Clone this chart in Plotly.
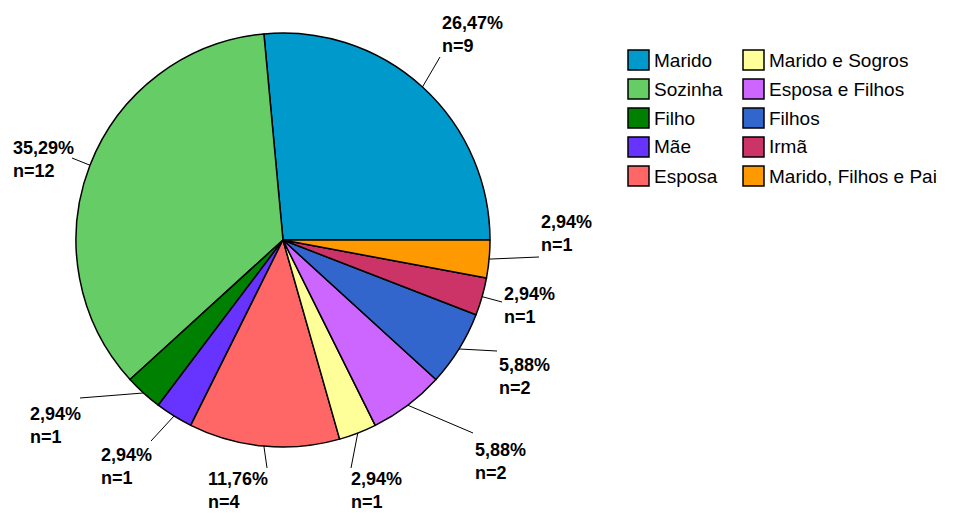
import math
import plotly.graph_objects as go

labels = ["Marido", "Sozinha", "Filho", "Mãe", "Esposa",
          "Marido e Sogros", "Esposa e Filhos", "Filhos", "Irmã", "Marido, Filhos e Pai"]
counts = [9, 12, 1, 1, 4, 1, 2, 2, 1, 1]
colors = ["#0099CC", "#66CC66", "#008000", "#6633FF", "#FF6666",
          "#FFFF99", "#CC66FF", "#3366CC", "#CC3366", "#FF9900"]

W, H = 962, 513
CX, CY, R = 283, 240, 207
TOP_END = 90  # clockwise-most edge of first slice at 3 o'clock; others follow counterclockwise

# label text top-left (px) and leader-line outer end (px)
text_pos = [(440, 11), (11, 136), (28, 402), (99, 443), (206, 467),
            (349, 467), (473, 438), (497, 353), (502, 282), (539, 210)]
line_end = [(440, 57), (72, 158), (80, 398), (151, 441), (267, 468),
            (351, 468), (473, 433), (497, 351), (502, 302), (539, 257)]

def px(x, y):
    return x / W, 1 - y / H

total = sum(counts)
rotation = TOP_END - counts[0] / total * 360

fig = go.Figure()
fig.add_trace(go.Pie(
    labels=labels, values=counts, sort=False, direction="counterclockwise",
    rotation=rotation, textinfo="none", hoverinfo="label+value+percent",
    marker=dict(colors=colors, line=dict(color="black", width=1.5)),
    domain=dict(x=[(CX - R) / W, (CX + R) / W], y=[1 - (CY + R) / H, 1 - (CY - R) / H]),
    showlegend=False,
))

shapes = []
annotations = []
cum = 0
for i, v in enumerate(counts):
    frac = v / total
    mid = TOP_END - (cum + frac / 2) * 360
    cum += frac
    a = math.radians(mid)
    ix, iy = CX + R * math.sin(a), CY - R * math.cos(a)
    ox, oy = line_end[i]
    x0, y0 = px(ix, iy)
    x1, y1 = px(ox, oy)
    shapes.append(dict(type="line", xref="paper", yref="paper", x0=x0, y0=y0, x1=x1, y1=y1,
                       line=dict(color="black", width=1)))
    pct = f"{frac * 100:.2f}".replace(".", ",")
    tx, ty = px(*text_pos[i])
    annotations.append(dict(xref="paper", yref="paper", x=tx, y=ty, xanchor="left", yanchor="top",
                            text=f"<b>{pct}%<br>n={v}</b>", showarrow=False, align="left",
                            font=dict(family="Liberation Sans, Arial, sans-serif", size=18, color="black")))

# legend (two columns, five rows)
for i, (lab, col) in enumerate(zip(labels, colors)):
    c, r = divmod(i, 5)
    bx = 628 + c * 115
    by = 50 + r * 29
    x0, y0 = px(bx, by)
    x1, y1 = px(bx + 21, by + 20)
    shapes.append(dict(type="rect", xref="paper", yref="paper", x0=x0, y0=y0, x1=x1, y1=y1,
                       fillcolor=col, line=dict(color="black", width=1.5)))
    tx, ty = px(bx + 24, by + 10)
    annotations.append(dict(xref="paper", yref="paper", x=tx, y=ty, xanchor="left", yanchor="middle",
                            text=lab, showarrow=False,
                            font=dict(family="Liberation Sans, Arial, sans-serif", size=19, color="black")))

fig.update_layout(
    width=W, height=H, margin=dict(l=0, r=0, t=0, b=0),
    paper_bgcolor="white", plot_bgcolor="white",
    shapes=shapes, annotations=annotations, showlegend=False,
)
fig.write_html("out.html", config={"displayModeBar": False},
               post_script="document.body.style.margin='0px';document.body.style.padding='0px';")
